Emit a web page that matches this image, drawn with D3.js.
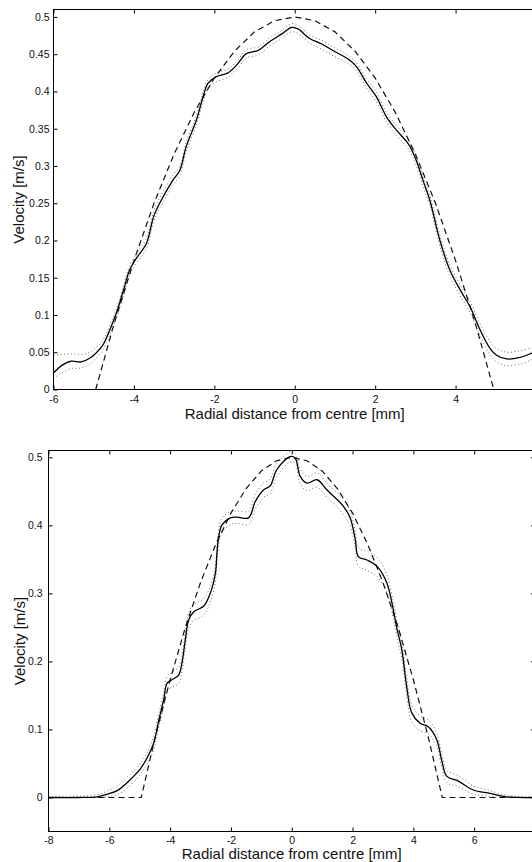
<!DOCTYPE html>
<html>
<head>
<meta charset="utf-8">
<script src="https://cdn.jsdelivr.net/npm/d3@7"></script>
<style>
  body { margin: 0; background: #fff; }
  svg { display: block; }
  text { font-family: "Liberation Sans", Arial, Helvetica, sans-serif; fill: #111; }
</style>
</head>
<body>
<svg id="chart"></svg>
<script>
// ---- top panel data (radial distance in mm, velocity in m/s) ----
const topX = [-6, -5.8, -5.56, -5.31, -5.1, -4.94, -4.77, -4.6, -4.44, -4.25, -4.11, -3.94, -3.69, -3.51, -3.36, -3.03, -2.86, -2.70, -2.45, -2.28, -2.16, -1.95, -1.66, -1.45, -1.20, -0.91, -0.62, -0.3, -0.08, 0.08, 0.37, 0.66, 0.95, 1.37, 1.54, 1.79, 2.03, 2.28, 2.53, 2.82, 2.99, 3.20, 3.36, 3.61, 3.86, 4.11, 4.36, 4.61, 4.86, 5.02, 5.27, 5.60, 5.90, 6.0]
const topMean = [0.022, 0.032, 0.038, 0.037, 0.042, 0.049, 0.060, 0.080, 0.102, 0.135, 0.160, 0.176, 0.196, 0.232, 0.250, 0.281, 0.294, 0.326, 0.361, 0.393, 0.411, 0.420, 0.425, 0.435, 0.451, 0.455, 0.467, 0.478, 0.486, 0.484, 0.471, 0.464, 0.455, 0.442, 0.433, 0.411, 0.393, 0.366, 0.348, 0.330, 0.312, 0.279, 0.254, 0.200, 0.160, 0.134, 0.111, 0.080, 0.055, 0.046, 0.041, 0.043, 0.049, 0.051]
const topUpper = [0.046, 0.047, 0.048, 0.047, 0.050, 0.056, 0.066, 0.086, 0.108, 0.141, 0.166, 0.182, 0.203, 0.239, 0.257, 0.288, 0.300, 0.332, 0.367, 0.399, 0.416, 0.425, 0.430, 0.440, 0.456, 0.460, 0.472, 0.483, 0.491, 0.489, 0.476, 0.469, 0.460, 0.447, 0.438, 0.417, 0.399, 0.372, 0.354, 0.336, 0.318, 0.285, 0.260, 0.207, 0.167, 0.141, 0.118, 0.088, 0.064, 0.055, 0.050, 0.052, 0.056, 0.057]
const topLower = [0.015, 0.022, 0.028, 0.029, 0.034, 0.042, 0.053, 0.073, 0.095, 0.128, 0.153, 0.169, 0.189, 0.225, 0.243, 0.274, 0.287, 0.319, 0.354, 0.386, 0.405, 0.413, 0.419, 0.429, 0.445, 0.449, 0.461, 0.472, 0.480, 0.478, 0.465, 0.457, 0.448, 0.436, 0.427, 0.404, 0.386, 0.359, 0.341, 0.323, 0.305, 0.271, 0.247, 0.192, 0.152, 0.126, 0.103, 0.072, 0.046, 0.037, 0.032, 0.034, 0.040, 0.042]
// dashed (laminar) profile
const topFitX = [-4.95, -4.5, -4, -3.5, -3, -2.5, -2, -1.5, -1, -0.5, 0, 0.5, 1, 1.5, 2, 2.5, 3, 3.5, 4, 4.5, 4.95]
const topFitV = [0, 0.087, 0.173, 0.250, 0.316, 0.372, 0.418, 0.454, 0.480, 0.495, 0.500, 0.495, 0.480, 0.454, 0.418, 0.372, 0.316, 0.250, 0.173, 0.087, 0]
const topXTicks = [-6, -4, -2, 0, 2, 4]
const topXLabels = ['-6', '-4', '-2', '0', '2', '4']
const topYTicks = [0, 0.05, 0.1, 0.15, 0.2, 0.25, 0.3, 0.35, 0.4, 0.45, 0.5]
const topYLabels = ['0', '0.05', '0.1', '0.15', '0.2', '0.25', '0.3', '0.35', '0.4', '0.45', '0.5']

// ---- bottom panel data ----
const botX = [-8, -7, -6.4, -6.05, -5.74, -5.41, -4.98, -4.76, -4.54, -4.37, -4.21, -4.10, -3.94, -3.72, -3.61, -3.50, -3.39, -3.22, -2.90, -2.68, -2.51, -2.46, -2.40, -2.29, -2.02, -1.80, -1.42, -1.20, -0.93, -0.71, -0.49, -0.05, 0.11, 0.28, 0.50, 0.83, 1.16, 1.70, 1.92, 2.09, 2.19, 2.47, 2.80, 3.13, 3.34, 3.45, 3.62, 3.78, 3.95, 4.22, 4.49, 4.77, 4.93, 5.10, 5.48, 5.97, 6.52, 7.07, 8]
const botMean = [0, 0, 0.001, 0.005, 0.010, 0.022, 0.042, 0.058, 0.080, 0.114, 0.144, 0.168, 0.173, 0.180, 0.198, 0.232, 0.261, 0.273, 0.281, 0.300, 0.330, 0.359, 0.384, 0.401, 0.411, 0.412, 0.411, 0.435, 0.452, 0.458, 0.482, 0.501, 0.499, 0.472, 0.462, 0.467, 0.452, 0.428, 0.411, 0.379, 0.354, 0.349, 0.340, 0.315, 0.276, 0.250, 0.217, 0.163, 0.124, 0.109, 0.104, 0.085, 0.055, 0.031, 0.024, 0.011, 0.006, 0.001, 0]
const botUpper = [0.001, 0.002, 0.004, 0.010, 0.017, 0.030, 0.050, 0.066, 0.090, 0.124, 0.154, 0.178, 0.184, 0.192, 0.210, 0.244, 0.272, 0.284, 0.292, 0.311, 0.341, 0.370, 0.394, 0.411, 0.420, 0.421, 0.421, 0.445, 0.462, 0.468, 0.491, 0.508, 0.506, 0.482, 0.472, 0.477, 0.462, 0.438, 0.421, 0.391, 0.367, 0.362, 0.353, 0.327, 0.288, 0.262, 0.229, 0.176, 0.136, 0.120, 0.114, 0.095, 0.065, 0.040, 0.032, 0.017, 0.010, 0.003, 0.001]
const botLower = [0, 0, 0, 0.001, 0.004, 0.014, 0.034, 0.049, 0.070, 0.104, 0.134, 0.157, 0.162, 0.168, 0.186, 0.220, 0.249, 0.260, 0.268, 0.287, 0.317, 0.346, 0.372, 0.390, 0.401, 0.403, 0.401, 0.424, 0.441, 0.447, 0.472, 0.493, 0.491, 0.461, 0.451, 0.456, 0.441, 0.416, 0.399, 0.366, 0.340, 0.334, 0.325, 0.301, 0.262, 0.237, 0.204, 0.150, 0.111, 0.098, 0.094, 0.075, 0.045, 0.022, 0.016, 0.005, 0.002, 0, 0]
const botFitX = [-8, -4.95, -4.5, -4, -3.5, -3, -2.5, -2, -1.5, -1, -0.5, 0, 0.5, 1, 1.5, 2, 2.5, 3, 3.5, 4, 4.5, 4.95, 8]
const botFitV = [0, 0, 0.087, 0.173, 0.250, 0.316, 0.372, 0.418, 0.454, 0.480, 0.495, 0.500, 0.495, 0.480, 0.454, 0.418, 0.372, 0.316, 0.250, 0.173, 0.087, 0, 0]
const botXTicks = [-8, -6, -4, -2, 0, 2, 4, 6]
const botXLabels = ['-8', '-6', '-4', '-2', '0', '2', '4', '6']
const botYTicks = [0, 0.1, 0.2, 0.3, 0.4, 0.5]
const botYLabels = ['0', '0.1', '0.2', '0.3', '0.4', '0.5']

const xTitle = 'Radial distance from centre [mm]'
const yTitle = 'Velocity [m/s]'

const width = 532
const height = 862

const svg = d3.select('#chart').attr('width', width).attr('height', height)

function zip(xs, ys) {
    return xs.map((v, i) => [v, ys[i]])
}

function panel(p) {
    const x = d3.scaleLinear().domain(p.xDomain).range([p.left, p.right])
    const y = d3.scaleLinear().domain(p.yDomain).range([p.bottom, p.top])

    svg.append('clipPath').attr('id', 'clip' + p.id)
        .append('rect')
        .attr('x', p.left).attr('y', p.top)
        .attr('width', p.right - p.left).attr('height', p.bottom - p.top)

    const plot = svg.append('g').attr('clip-path', `url(#clip${p.id})`)

    const smooth = d3.line().x(d => x(d[0])).y(d => y(d[1])).curve(d3.curveCatmullRom.alpha(0.5))
    const straight = d3.line().x(d => x(d[0])).y(d => y(d[1]))

    // dotted confidence bounds
    ;[p.upper, p.lower].forEach(vals => {
        plot.append('path').datum(zip(p.xs, vals))
            .attr('d', smooth).attr('fill', 'none')
            .attr('stroke', '#6e6e6e').attr('stroke-width', 1)
            .attr('stroke-dasharray', '1,2.5')
    })
    // dashed fitted profile
    plot.append('path').datum(zip(p.fitX, p.fitV))
        .attr('d', straight).attr('fill', 'none')
        .attr('stroke', '#111').attr('stroke-width', 1.2)
        .attr('stroke-dasharray', '6,4')
    // solid mean profile
    plot.append('path').datum(zip(p.xs, p.mean))
        .attr('d', smooth).attr('fill', 'none')
        .attr('stroke', '#000').attr('stroke-width', 1.3)

    // axes, ticks inward on all four sides
    const clean = g => g.select('.domain').remove()
    const style = g => g.selectAll('text').attr('font-size', 10.5).attr('font-family', '"Liberation Sans", Arial, sans-serif').attr('fill', '#111')

    svg.append('g').attr('transform', `translate(0,${p.bottom})`)
        .call(d3.axisBottom(x).tickValues(p.xTicks).tickFormat((d, i) => p.xLabels[i]).tickSize(-4).tickPadding(p.xPad))
        .call(clean).call(style)
    svg.append('g').attr('transform', `translate(0,${p.top})`)
        .call(d3.axisTop(x).tickValues(p.xTicks).tickFormat('').tickSize(-4))
        .call(clean)
    svg.append('g').attr('transform', `translate(${p.left},0)`)
        .call(d3.axisLeft(y).tickValues(p.yTicks).tickFormat((d, i) => p.yLabels[i]).tickSize(-4).tickPadding(p.yPad))
        .call(clean).call(style)
    svg.append('g').attr('transform', `translate(${p.right},0)`)
        .call(d3.axisRight(y).tickValues(p.yTicks).tickFormat('').tickSize(-4))
        .call(clean)

    svg.selectAll('.tick line').attr('stroke', '#000')

    svg.append('rect')
        .attr('x', p.left).attr('y', p.top)
        .attr('width', p.right - p.left).attr('height', p.bottom - p.top)
        .attr('fill', 'none').attr('stroke', '#000').attr('stroke-width', 1)

    svg.append('text')
        .attr('x', x(0)).attr('y', p.bottom + p.xTitleOffset)
        .attr('text-anchor', 'middle').attr('font-size', 15)
        .text(xTitle)

    svg.append('text')
        .attr('transform', `translate(${p.yTitleX},${(p.top + p.bottom) / 2}) rotate(-90)`)
        .attr('text-anchor', 'middle').attr('dy', '0.35em').attr('font-size', 15)
        .text(yTitle)
}

panel({
    id: 'top',
    xDomain: [-6, 6], yDomain: [0, 0.51],
    left: 53.5, right: 536, top: 9.5, bottom: 389.5,
    xs: topX, mean: topMean, upper: topUpper, lower: topLower,
    fitX: topFitX, fitV: topFitV,
    xTicks: topXTicks, xLabels: topXLabels,
    yTicks: topYTicks, yLabels: topYLabels,
    xPad: 6, yPad: 4, xTitleOffset: 29, yTitleX: 19
})

panel({
    id: 'bot',
    xDomain: [-8, 8], yDomain: [-0.05, 0.51],
    left: 48.5, right: 535, top: 450.5, bottom: 831.5,
    xs: botX, mean: botMean, upper: botUpper, lower: botLower,
    fitX: botFitX, fitV: botFitV,
    xTicks: botXTicks, xLabels: botXLabels,
    yTicks: botYTicks, yLabels: botYLabels,
    xPad: 5, yPad: 6, xTitleOffset: 27, yTitleX: 20
})
</script>
</body>
</html>
